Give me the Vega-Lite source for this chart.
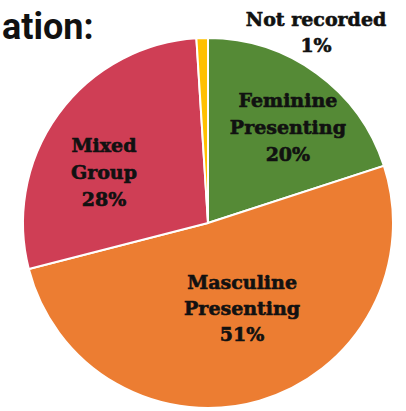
{
  "$schema": "https://vega.github.io/schema/vega-lite/v6.json",
  "width": 372,
  "height": 372,
  "autosize": {"type": "none"},
  "padding": {"left": 22, "top": 37, "right": 12, "bottom": 2},
  "background": "white",
  "title": {
    "text": "ation:",
    "anchor": "start",
    "frame": "group",
    "orient": "top",
    "offset": 0,
    "dx": -20,
    "dy": 64,
    "baseline": "alphabetic",
    "font": "Roboto",
    "fontSize": 36,
    "fontWeight": "bold",
    "color": "#111111"
  },
  "data": {
    "values": [
      {"category": "Feminine Presenting", "label": "Feminine\nPresenting\n20%", "value": 20},
      {"category": "Masculine Presenting", "label": "Masculine\nPresenting\n51%", "value": 51},
      {"category": "Mixed Group", "label": "Mixed\nGroup\n28%", "value": 28},
      {"category": "Not recorded", "label": "Not recorded\n1%", "value": 1}
    ]
  },
  "config": {"view": {"stroke": null}},
  "layer": [
    {
      "mark": {"type": "arc", "outerRadius": 185, "stroke": "white", "strokeWidth": 2},
      "encoding": {
        "theta": {"field": "value", "type": "quantitative", "stack": true},
        "color": {
          "field": "category",
          "type": "nominal",
          "scale": {
            "domain": ["Feminine Presenting", "Masculine Presenting", "Mixed Group", "Not recorded"],
            "range": ["#558a36", "#ec7d32", "#cf3e55", "#ffc000"]
          },
          "legend": null
        }
      }
    },
    {
      "mark": {"type": "text", "radius": 124, "dx": 7, "dy": -22, "lineBreak": "\n", "lineHeight": 27, "font": "DejaVu Serif", "fontWeight": "bold", "fontSize": 19, "fill": "#111111", "stroke": "#111111", "strokeWidth": 0.6, "align": "center", "baseline": "middle"},
      "encoding": {
        "theta": {"field": "value", "type": "quantitative", "stack": true},
        "detail": {"field": "category", "type": "nominal"},
        "text": {"condition": {"test": "datum.category === 'Feminine Presenting'", "field": "label"}, "value": ""}
      }
    },
    {
      "mark": {"type": "text", "radius": 115, "dx": -11, "dy": -9, "lineBreak": "\n", "lineHeight": 27, "font": "DejaVu Serif", "fontWeight": "bold", "fontSize": 19, "fill": "#111111", "stroke": "#111111", "strokeWidth": 0.6, "align": "center", "baseline": "middle"},
      "encoding": {
        "theta": {"field": "value", "type": "quantitative", "stack": true},
        "detail": {"field": "category", "type": "nominal"},
        "text": {"condition": {"test": "datum.category === 'Mixed Group'", "field": "label"}, "value": ""}
      }
    },
    {
      "mark": {"type": "text", "radius": 90, "dx": 9, "dy": -26, "lineBreak": "\n", "lineHeight": 26, "font": "DejaVu Serif", "fontWeight": "bold", "fontSize": 19, "fill": "#111111", "stroke": "#111111", "strokeWidth": 0.6, "align": "center", "baseline": "middle"},
      "encoding": {
        "theta": {"field": "value", "type": "quantitative", "stack": true},
        "detail": {"field": "category", "type": "nominal"},
        "text": {"condition": {"test": "datum.category === 'Masculine Presenting'", "field": "label"}, "value": ""}
      }
    },
    {
      "mark": {"type": "text", "radius": 190, "dx": 114, "dy": -13, "lineBreak": "\n", "lineHeight": 26, "font": "DejaVu Serif", "fontWeight": "bold", "fontSize": 19, "fill": "#111111", "stroke": "#111111", "strokeWidth": 0.6, "align": "center", "baseline": "middle"},
      "encoding": {
        "theta": {"field": "value", "type": "quantitative", "stack": true},
        "detail": {"field": "category", "type": "nominal"},
        "text": {"condition": {"test": "datum.category === 'Not recorded'", "field": "label"}, "value": ""}
      }
    }
  ]
}
